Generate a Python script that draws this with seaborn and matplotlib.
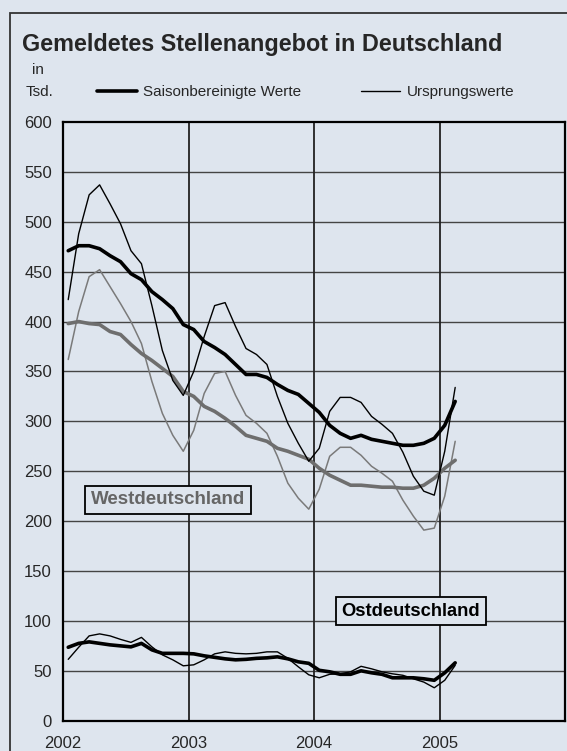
import numpy as np
import pandas as pd
import matplotlib
matplotlib.use("Agg")
import matplotlib.pyplot as plt
import matplotlib.patches as patches
import seaborn as sns

# monthly values, Jan 2002 .. Feb 2005 (in Tsd.)
months = pd.date_range("2002-01-01", "2005-02-01", freq="MS")

de_sa = [471, 476, 476, 473, 466, 460, 448, 442, 430, 422, 413, 397,
         392, 380, 374, 367, 357, 347, 347, 344, 337, 331, 327, 318,
         309, 296, 288, 283, 286, 282, 280, 278, 276, 276, 278, 283,
         296, 320]
de_raw = [422, 488, 527, 537, 518, 498, 471, 458, 416, 371, 341, 326,
          350, 385, 416, 419, 395, 373, 367, 357, 325, 298, 278, 260,
          273, 310, 324, 324, 319, 305, 297, 288, 269, 245, 230, 226,
          270, 334]
west_sa = [398, 400, 398, 397, 390, 387, 377, 368, 361, 353, 345, 330,
           325, 315, 310, 303, 295, 286, 283, 280, 273, 270, 266, 262,
           253, 246, 241, 236, 236, 235, 234, 234, 233, 233, 236, 243,
           253, 261]
west_raw = [362, 410, 445, 452, 435, 418, 400, 378, 340, 308, 286, 270,
            291, 328, 348, 350, 326, 306, 298, 288, 265, 238, 223, 212,
            232, 265, 274, 274, 266, 255, 248, 240, 221, 205, 191, 193,
            225, 280]
ost_sa = [73.6, 77.5, 79, 77.5, 76, 75, 74, 77.5, 71, 67.5, 67.5, 67.5,
          67, 65, 63.5, 62, 61, 61.5, 62.5, 63, 64, 62, 59, 57.5,
          50.5, 49, 46.5, 46.5, 50, 48, 46.5, 43, 43, 43, 42, 40.5,
          48, 58]
ost_raw = [61.5, 73.6, 85, 87, 85, 81.5, 78.5, 83.5, 74, 66, 61, 55,
           56, 61, 67, 69, 67.5, 67, 67.5, 69, 69, 62.5, 54, 46,
           43, 46.5, 47, 49, 54.5, 52, 49, 47, 45.5, 42, 38.7, 33,
           40.5, 55.5]

years = [2002, 2003, 2004, 2005]
yticks = list(range(0, 601, 50))

bg = "#dee5ee"
x = months.year + (months.month - 0.5) / 12

df = pd.DataFrame({"x": x, "de_sa": de_sa, "de_raw": de_raw,
                   "west_sa": west_sa, "west_raw": west_raw,
                   "ost_sa": ost_sa, "ost_raw": ost_raw})

sns.set_style("white")
plt.rcParams["font.family"] = ["Liberation Sans", "DejaVu Sans"]

fig = plt.figure(figsize=(5.67, 7.51), dpi=100, facecolor=bg)
ax = fig.add_axes([63 / 567, 1 - 720.7 / 751, 502 / 567, 598.7 / 751])
ax.set_facecolor(bg)

# frame around the whole chart
fig.add_artist(patches.Rectangle((10 / 567, -0.1), 1.2, 1 - 13 / 751 + 0.1,
                                 transform=fig.transFigure, fill=False,
                                 edgecolor="#333333", linewidth=1.3))

sns.lineplot(data=df, x="x", y="west_raw", ax=ax, color="#7a7a7a", linewidth=1.1)
sns.lineplot(data=df, x="x", y="west_sa", ax=ax, color="#6e6e6e", linewidth=2.6)
l_raw = sns.lineplot(data=df, x="x", y="de_raw", ax=ax, color="black", linewidth=1.0).lines[-1]
l_sa = sns.lineplot(data=df, x="x", y="de_sa", ax=ax, color="black", linewidth=2.6).lines[-1]
sns.lineplot(data=df, x="x", y="ost_raw", ax=ax, color="black", linewidth=1.0)
sns.lineplot(data=df, x="x", y="ost_sa", ax=ax, color="black", linewidth=2.6)

ax.set_xlim(2002, 2006)
ax.set_ylim(0, 600)
ax.set_xlabel("")
ax.set_ylabel("")
ax.set_xticks(years)
ax.set_xticks([y + 0.5 for y in years], minor=True)
ax.set_yticks(yticks)
ax.tick_params(axis="x", which="major", length=0, pad=11, labelsize=12)
ax.tick_params(axis="x", which="minor", length=4, width=1, direction="out", color="black")
ax.tick_params(axis="y", length=0, pad=8, labelsize=12)
for yv in yticks[1:-1]:
    ax.axhline(yv, color="#444444", linewidth=1.0, zorder=0.5)
for yr in years[1:]:
    ax.axvline(yr, color="#222222", linewidth=1.3, zorder=0.5)
for s in ax.spines.values():
    s.set_color("black")
    s.set_linewidth(1.6)

ax.text(91 / 567, 1 - 500 / 751, "Westdeutschland", transform=fig.transFigure,
        fontsize=13.5, fontweight="bold", color="#666666", va="center", ha="left",
        bbox=dict(boxstyle="square,pad=0.3", facecolor=bg, edgecolor="black", linewidth=1.3))
ax.text(411 / 567, 1 - 611 / 751, "Ostdeutschland", transform=fig.transFigure,
        fontsize=13.2, fontweight="bold", color="black", va="center", ha="center",
        bbox=dict(boxstyle="square,pad=0.3", facecolor=bg, edgecolor="black", linewidth=1.3))

fig.text(22 / 567, 1 - 44 / 751, "Gemeldetes Stellenangebot in Deutschland",
         fontsize=16.8, fontweight="bold", va="center", ha="left")
fig.text(38 / 567, 1 - 70 / 751, "in", fontsize=11, va="center", ha="center")
fig.text(39 / 567, 1 - 92 / 751, "Tsd.", fontsize=11, va="center", ha="center")

fig.legend([l_sa, l_raw], ["Saisonbereinigte Werte", "Ursprungswerte"],
           loc="center left", bbox_to_anchor=(97 / 567, 1 - 92 / 751), ncol=2,
           frameon=False, fontsize=11, handlelength=2.6, handletextpad=0.4,
           columnspacing=3.9, borderaxespad=0, borderpad=0)

fig.savefig("out.png", dpi=100, facecolor=bg)
